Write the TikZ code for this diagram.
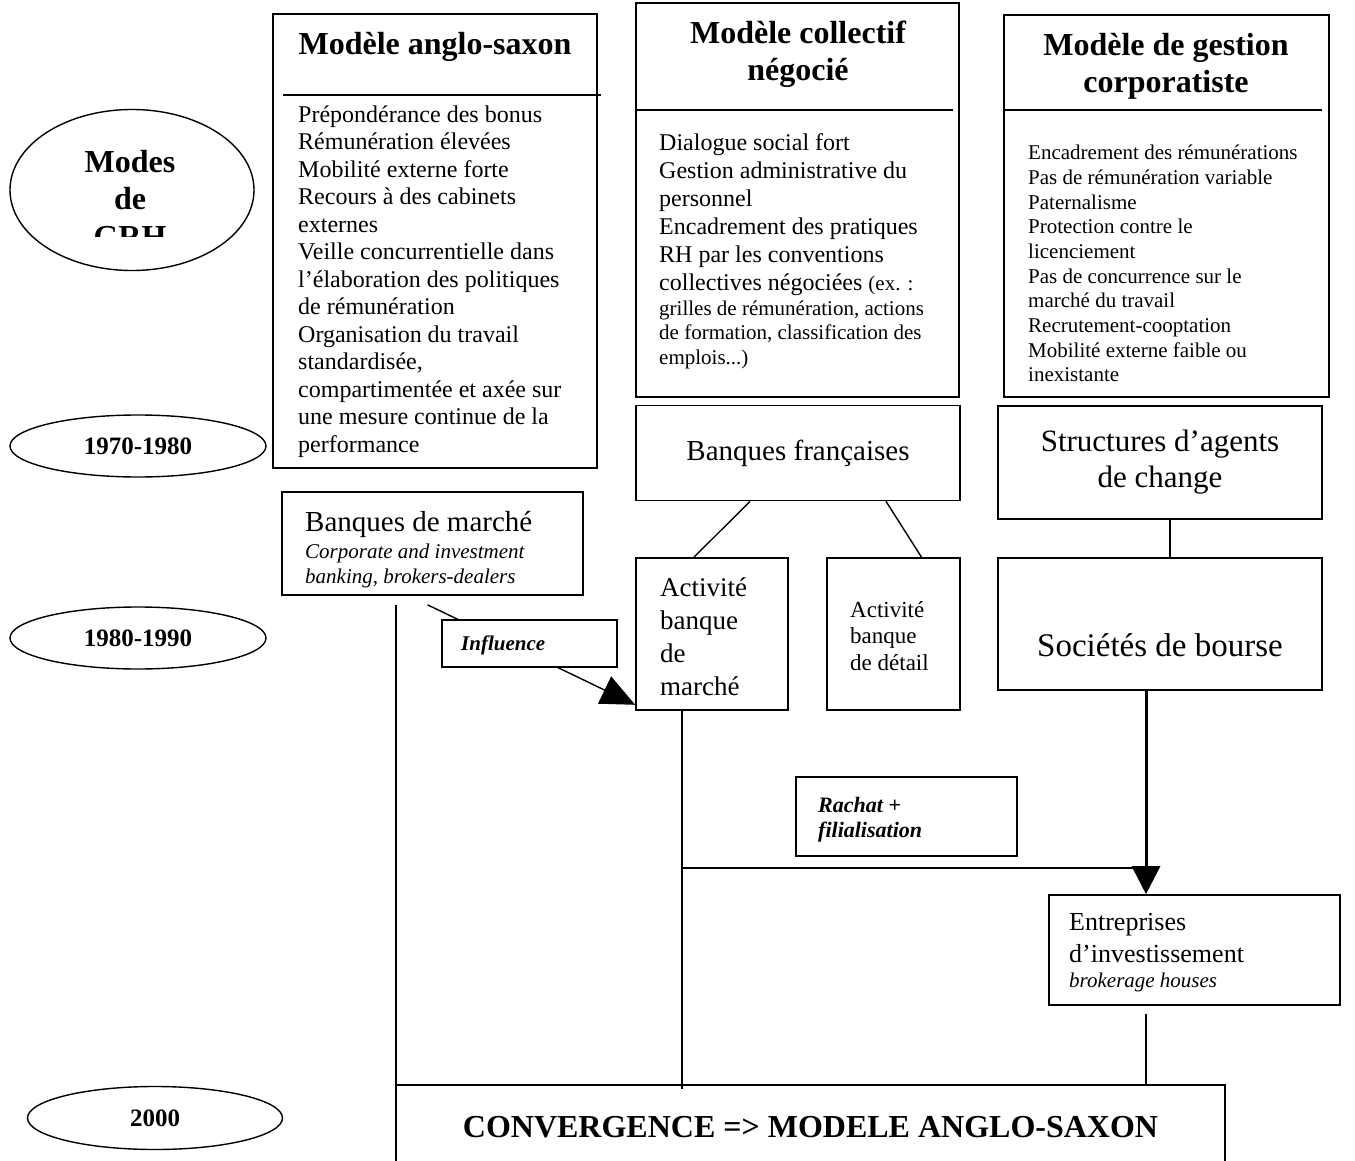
\documentclass[tikz,border=0pt]{standalone}
\usepackage{fontspec}
\setmainfont{Liberation Serif}
\usetikzlibrary{shapes.geometric,arrows.meta}

\tikzset{
  box/.style={draw, line width=1.6pt, inner sep=0pt},
  period/.style={draw, ellipse, line width=1.4pt, inner sep=0pt,
    font=\bfseries\fontsize{25}{30}\selectfont},
  title/.style={inner sep=0pt, align=center, font=\bfseries\fontsize{32}{37}\selectfont},
  txt/.style={inner sep=0pt, align=left, anchor=north west},
  link/.style={line width=1.4pt},
  bigarrow/.style={line width=1.4pt, -{Triangle[length=34pt,width=30pt]}},
  thickarrow/.style={line width=3pt, -{Triangle[length=28pt,width=28pt]}},
}

\begin{document}
\begin{tikzpicture}[x=1pt,y=-1pt]
	\clip (0,0) rectangle (1355,1161);

	% Modes de GRH
	\node[period, minimum width=244pt, minimum height=161pt] (grh) at (132,190) {};
	\begin{scope}
		\clip (0,100) rectangle (260,237);
		\node[title, anchor=north, font=\bfseries\fontsize{32}{37.5}\selectfont] (grhtxt) at (130,150) {Modes\\de\\GRH};
	\end{scope}

	% periods
	\node[period, minimum width=256pt, minimum height=62pt] (p70) at (138,446) {1970-1980};
	\node[period, minimum width=256pt, minimum height=62pt] (p80) at (138,638) {1980-1990};
	\node[period, minimum width=255pt, minimum height=63pt] (p00) at (155,1118) {2000};

	% Modèle anglo-saxon
	\node[box, minimum width=324pt, minimum height=454pt] (anglo) at (435,241) {};
	\draw[link] (283,95) -- (601,95);
	\node[title] (angloT) at (435,47) {Modèle anglo-saxon};
	\node[txt, font=\fontsize{24}{27.5}\selectfont] (angloL) at (298,105.5) {Prépondérance des bonus\\
		Rémunération élevées\\
		Mobilité externe forte\\
		Recours à des cabinets\\
		externes\\
		Veille concurrentielle dans\\
		l’élaboration des politiques\\
		de rémunération\\
		Organisation du travail\\
		standardisée,\\
		compartimentée et axée sur\\
		une mesure continue de la\\
		performance};

	% Modèle collectif négocié
	\node[box, minimum width=323pt, minimum height=394pt] (coll) at (797.5,200) {};
	\draw[link] (635,110) -- (953,110);
	\node[title] (collT) at (798,54.5) {Modèle collectif\\négocié};
	\node[txt, font=\fontsize{24}{28}\selectfont] (collL) at (659,133.5) {Dialogue social fort\\
		Gestion administrative du\\
		personnel\\
		Encadrement des pratiques\\
		RH par les conventions\\
		collectives négociées {\fontsize{21}{24.5}\selectfont(ex. :}\\[-3.5pt]
		{\fontsize{21}{24.5}\selectfont grilles de rémunération, actions}\\[-3.5pt]
		{\fontsize{21}{24.5}\selectfont de formation, classification des}\\[-3.5pt]
		{\fontsize{21}{24.5}\selectfont emplois...)}};

	% Modèle de gestion corporatiste
	\node[box, minimum width=325pt, minimum height=382pt] (corpo) at (1166.5,206) {};
	\draw[link] (1003,110) -- (1322,110);
	\node[title] (corpoT) at (1166,66) {Modèle de gestion\\corporatiste};
	\node[txt, font=\fontsize{21}{24.7}\selectfont] (corpoL) at (1028,144.8) {Encadrement des rémunérations\\
		Pas de rémunération variable\\
		Paternalisme\\
		Protection contre le\\
		licenciement\\
		Pas de concurrence sur le\\
		marché du travail\\
		Recrutement-cooptation\\
		Mobilité externe faible ou\\
		inexistante};

	% 1970-1980 boxes
	\node[box, minimum width=324pt, minimum height=95pt, font=\fontsize{29}{34}\selectfont] (fr) at (798,453) {Banques françaises};
	\node[box, minimum width=324pt, minimum height=113pt, align=center, font=\fontsize{31}{36}\selectfont] (agents) at (1160,462.5) {Structures d’agents\\de change};
	\node[box, minimum width=301pt, minimum height=103pt] (marche) at (432.5,543.5) {};
	\node[txt, font=\fontsize{21}{25}\selectfont] (marcheL) at (305,511.5) {{\fontsize{29}{34}\selectfont Banques de marché}\\[1.3pt]
		{\itshape Corporate and investment}\\
		{\itshape banking, brokers-dealers}};

	% 1980-1990 boxes
	\node[box, minimum width=152pt, minimum height=152pt] (actm) at (712,634) {};
	\node[txt, font=\fontsize{27}{33}\selectfont] (actmL) at (660,577.5) {Activité\\banque\\de\\marché};
	\node[box, minimum width=133pt, minimum height=152pt] (actd) at (893.5,634) {};
	\node[txt, font=\fontsize{23}{26.5}\selectfont] (actdL) at (850,601) {Activité\\banque\\de détail};
	\node[box, minimum width=324pt, minimum height=132pt] (bourse) at (1160,624) {};
	\node[inner sep=0pt, font=\fontsize{33}{38}\selectfont] (bourseL) at (1160,645) {Sociétés de bourse};

	% links
	\draw[link] ([xshift=-48pt]fr.south) -- ([xshift=-18pt]actm.north);
	\draw[link] ([xshift=88pt]fr.south) -- ([xshift=28pt]actd.north);
	\draw[link] ([xshift=10pt]agents.south) -- ([xshift=10pt]bourse.north);

	% Influence
	\draw[bigarrow] ([xshift=-5pt,yshift=-9pt]marche.south) -- ([yshift=6pt]actm.south west);
	\node[box, fill=white, minimum width=175pt, minimum height=47pt] (infl) at (529.5,643.5) {};
	\node[inner sep=0pt, anchor=west, font=\bfseries\itshape\fontsize{21}{25}\selectfont] (inflL) at (461,645) {Influence};

	% Rachat + filialisation
	\node[box, minimum width=221pt, minimum height=79pt] (rachat) at (906.5,816.5) {};
	\node[txt, font=\bfseries\itshape\fontsize{22}{25}\selectfont] (rachatL) at (818,797) {Rachat +\\filialisation};

	% Entreprises d'investissement
	\node[box, minimum width=291pt, minimum height=110pt] (ent) at (1194.5,950) {};
	\node[txt, font=\fontsize{26}{32}\selectfont] (entL) at (1069,913) {Entreprises\\d’investissement\\[-6.6pt]
		{\itshape\fontsize{21}{25}\selectfont brokerage houses}};

	% 2000
	\node[box, minimum width=829pt, minimum height=84pt, font=\bfseries\fontsize{32}{37}\selectfont] (conv) at (810.5,1127) {CONVERGENCE => MODELE ANGLO-SAXON};

	% flows
	\coordinate (mline) at ([xshift=-30pt]actm.south);
	\coordinate (bline) at ([xshift=-14pt]bourse.south);
	\draw[thickarrow] (bline) -- (bline |- ent.north);
	\draw[link] (mline) -- ([yshift=-5pt]mline |- conv.north);
	\draw[link] (mline |- 0,868) -- (bline |- 0,868);
	\draw[link] ([xshift=-36.5pt,yshift=-9pt]marche.south) -- ([xshift=-36.5pt]marche.south |- conv.north);
	\draw[link] ([yshift=-8pt]bline |- ent.south) -- (bline |- conv.north);

\end{tikzpicture}
\end{document}
